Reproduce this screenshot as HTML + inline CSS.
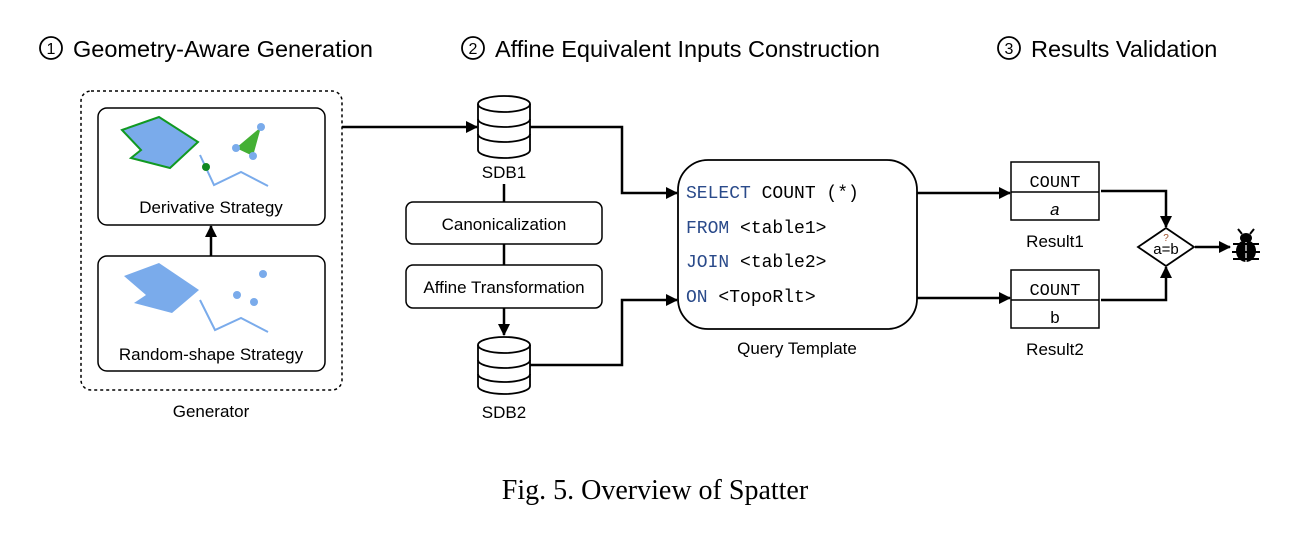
<!DOCTYPE html>
<html><head><meta charset="utf-8"><style>
body{margin:0;background:#fff;}
svg{display:block;font-family:"Liberation Sans",sans-serif;}
.m{font-family:"Liberation Mono",monospace;}
</style></head><body>
<svg width="1315" height="546" viewBox="0 0 1315 546">
<defs>
<marker id="a" markerWidth="12" markerHeight="12" refX="11" refY="6" orient="auto" markerUnits="userSpaceOnUse"><path d="M0,0 L12,6 L0,12 z" fill="#000"/></marker>
</defs>
<g font-size="23.5" fill="#000">
<circle cx="51" cy="48" r="11" fill="none" stroke="#000" stroke-width="1.8"/><text x="51" y="54" font-size="16" text-anchor="middle">1</text>
<text x="73" y="57">Geometry-Aware Generation</text>
<circle cx="473" cy="48" r="11" fill="none" stroke="#000" stroke-width="1.8"/><text x="473" y="54" font-size="16" text-anchor="middle">2</text>
<text x="495" y="57">Affine Equivalent Inputs Construction</text>
<circle cx="1009" cy="48" r="11" fill="none" stroke="#000" stroke-width="1.8"/><text x="1009" y="54" font-size="16" text-anchor="middle">3</text>
<text x="1031" y="57">Results Validation</text>
</g>
<rect x="81" y="91" width="261" height="299" rx="10" fill="none" stroke="#000" stroke-width="1.5" stroke-dasharray="3,3"/>
<rect x="98" y="108" width="227" height="117" rx="9" fill="none" stroke="#000" stroke-width="1.5"/>
<rect x="98" y="256" width="227" height="115" rx="9" fill="none" stroke="#000" stroke-width="1.5"/>
<line x1="211" y1="256" x2="211" y2="226" stroke="#000" stroke-width="2.5" marker-end="url(#a)"/>
<polygon points="122,130 159,117 198,142 170,168 131,158 141,150" fill="#7aabeb" stroke="#119922" stroke-width="2"/>
<polygon points="261,127 236,148 253,156" fill="#44b034"/>
<circle cx="261" cy="127" r="4" fill="#7aabeb"/><circle cx="236" cy="148" r="4" fill="#7aabeb"/><circle cx="253" cy="156" r="4" fill="#7aabeb"/>
<polyline points="200,155 214,185 241,172 268,186" fill="none" stroke="#7aabeb" stroke-width="2"/>
<circle cx="206" cy="167" r="4" fill="#118822"/>
<text x="211" y="213" font-size="17" text-anchor="middle">Derivative Strategy</text>
<polygon points="124,276 159,263 199,290 172,313 134,303 146,295" fill="#7aabeb"/>
<circle cx="263" cy="274" r="4" fill="#7aabeb"/><circle cx="237" cy="295" r="4" fill="#7aabeb"/><circle cx="254" cy="302" r="4" fill="#7aabeb"/>
<polyline points="200,300 215,330 241,318 268,332" fill="none" stroke="#7aabeb" stroke-width="2"/>
<text x="211" y="360" font-size="17" text-anchor="middle">Random-shape Strategy</text>
<text x="211" y="417" font-size="17" text-anchor="middle">Generator</text>
<g fill="#fff" stroke="#000" stroke-width="1.8">
<path d="M478,104 v46 a26,8 0 0 0 52,0 v-46"/>
<ellipse cx="504" cy="104" rx="26" ry="8"/>
<path d="M478,119 a26,8 0 0 0 52,0 M478,134 a26,8 0 0 0 52,0" fill="none"/>
<path d="M478,345 v41 a26,8 0 0 0 52,0 v-41"/>
<ellipse cx="504" cy="345" rx="26" ry="8"/>
<path d="M478,360 a26,8 0 0 0 52,0 M478,374 a26,8 0 0 0 52,0" fill="none"/>
</g>
<text x="504" y="178" font-size="17" text-anchor="middle">SDB1</text>
<text x="504" y="418" font-size="17" text-anchor="middle">SDB2</text>
<rect x="406" y="202" width="196" height="42" rx="7" fill="none" stroke="#000" stroke-width="1.5"/>
<text x="504" y="230" font-size="17" text-anchor="middle">Canonicalization</text>
<rect x="406" y="265" width="196" height="43" rx="7" fill="none" stroke="#000" stroke-width="1.5"/>
<text x="504" y="293" font-size="17" text-anchor="middle">Affine Transformation</text>
<g stroke="#000" stroke-width="2.5" fill="none">
<line x1="504" y1="184" x2="504" y2="202"/>
<line x1="504" y1="244" x2="504" y2="265"/>
<line x1="504" y1="308" x2="504" y2="335" marker-end="url(#a)"/>
<line x1="342" y1="127" x2="477" y2="127" marker-end="url(#a)"/>
<polyline points="530,127 622,127 622,193 677,193" marker-end="url(#a)"/>
<polyline points="530,365 622,365 622,300 677,300" marker-end="url(#a)"/>
<line x1="917" y1="193" x2="1010" y2="193" marker-end="url(#a)"/>
<line x1="917" y1="298" x2="1010" y2="298" marker-end="url(#a)"/>
<polyline points="1101,191 1166,191 1166,227" marker-end="url(#a)"/>
<polyline points="1101,300 1166,300 1166,267" marker-end="url(#a)"/>
<line x1="1195" y1="247" x2="1230" y2="247" marker-end="url(#a)"/>
</g>
<rect x="678" y="160" width="239" height="169" rx="30" fill="none" stroke="#000" stroke-width="1.8"/>
<g class="m" font-size="18">
<text x="686" y="198"><tspan fill="#2a4a8a">SELECT</tspan> COUNT (*)</text>
<text x="686" y="233"><tspan fill="#2a4a8a">FROM</tspan> &lt;table1&gt;</text>
<text x="686" y="267"><tspan fill="#2a4a8a">JOIN</tspan> &lt;table2&gt;</text>
<text x="686" y="302"><tspan fill="#2a4a8a">ON</tspan> &lt;TopoRlt&gt;</text>
</g>
<text x="797" y="354" font-size="17" text-anchor="middle">Query Template</text>
<g fill="none" stroke="#000" stroke-width="1.5">
<rect x="1011" y="162" width="88" height="58"/><line x1="1011" y1="192" x2="1099" y2="192"/>
<rect x="1011" y="270" width="88" height="58"/><line x1="1011" y1="300" x2="1099" y2="300"/>
<polygon points="1138,247 1166,228 1194,247 1166,266" stroke-width="1.8"/>
</g>
<g class="m" font-size="17" text-anchor="middle">
<text x="1055" y="187">COUNT</text><text x="1055" y="215" font-style="italic">a</text>
<text x="1055" y="295">COUNT</text><text x="1055" y="323">b</text>
</g>
<text x="1055" y="247" font-size="17" text-anchor="middle">Result1</text>
<text x="1055" y="355" font-size="17" text-anchor="middle">Result2</text>
<text x="1166" y="254" font-size="15" text-anchor="middle">a=b</text>
<text x="1166" y="241" font-size="10" text-anchor="middle" fill="#a0522d">?</text>
<g fill="#000" stroke="#000">
<ellipse cx="1246" cy="251" rx="10" ry="11" stroke="none"/>
<ellipse cx="1246" cy="238" rx="6" ry="5" stroke="none"/>
<line x1="1246" y1="242" x2="1246" y2="262" stroke="#fff" stroke-width="1.2"/>
<g stroke-width="2"><line x1="1233" y1="244" x2="1259" y2="244"/><line x1="1232" y1="252" x2="1260" y2="252"/><line x1="1233" y1="259" x2="1259" y2="259"/><line x1="1242" y1="234" x2="1238" y2="229"/><line x1="1250" y1="234" x2="1254" y2="229"/></g>
</g>
<text x="655" y="499" font-family="Liberation Serif, serif" font-size="28" text-anchor="middle">Fig. 5.  Overview of Spatter</text>
</svg>
</body></html>
